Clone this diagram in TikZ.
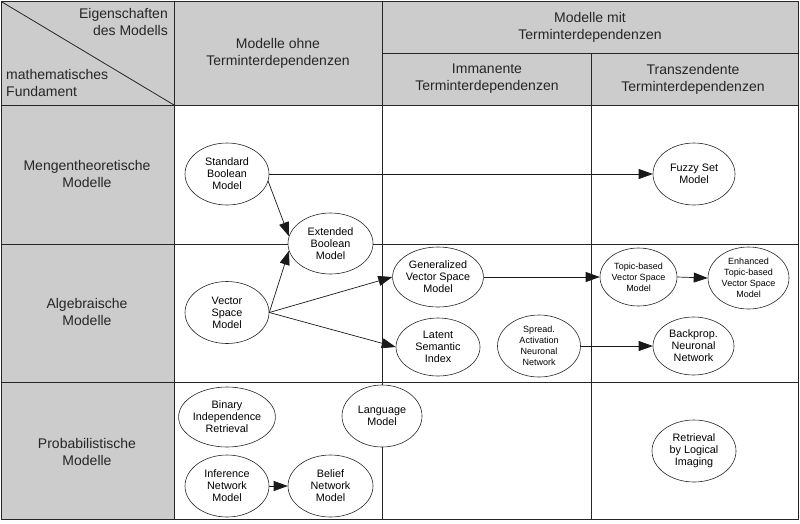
\documentclass[tikz,border=0pt]{standalone}
\usepackage{fontspec}
\setmainfont{Liberation Sans}
\usetikzlibrary{shapes.geometric,arrows.meta}
\begin{document}
\begin{tikzpicture}[x=1pt,y=-1pt,
  grid/.style={draw=black!85,line width=0.9pt},
  hdr/.style={font=\fontsize{14}{17}\selectfont,align=center,inner sep=0pt,text=black!85},
  mdl/.style={ellipse,draw=black!85,fill=white,line width=0.6pt,minimum width=#1,inner sep=0pt,align=center,font=\fontsize{10.8}{12}\selectfont},
  mdl/.default=84pt,
  small/.style={font=\fontsize{9}{11}\selectfont},
  arr/.style={draw=black!90,line width=0.7pt,-{Triangle[length=14pt,width=10pt]}}]
\useasboundingbox (0,0) rectangle (800,523);
% backgrounds
\fill[black!20] (1,1) rectangle (798,105);
\fill[black!20] (1,105) rectangle (174,519);
% grid lines
\draw[grid] (1,1) rectangle (798,519);
\draw[grid] (1,105) -- (798,105);
\draw[grid] (1,244) -- (798,244);
\draw[grid] (1,382) -- (798,382);
\draw[grid] (174,1) -- (174,519);
\draw[grid] (382,1) -- (382,519);
\draw[grid] (591,53) -- (591,519);
\draw[grid] (382,53) -- (798,53);
\draw[draw=black!85,line width=0.8pt] (2,2) -- (174,105);
% header texts
\node[hdr,align=right,anchor=east] (eig) at (168,22) {Eigenschaften\\des Modells};
\node[hdr,align=left,anchor=west] (mat) at (6,83) {mathematisches\\Fundament};
\node[hdr] (ohne) at (278,53) {Modelle ohne\\Terminterdependenzen};
\node[hdr] (mit) at (590,27) {Modelle mit\\Terminterdependenzen};
\node[hdr] (imm) at (487,79) {Immanente\\Terminterdependenzen};
\node[hdr] (tra) at (693,79) {Transzendente\\Terminterdependenzen};
\node[hdr] (r1) at (87,174) {Mengentheoretische\\Modelle};
\node[hdr] (r2) at (87,312) {Algebraische\\Modelle};
\node[hdr] (r3) at (87,452) {Probabilistische\\Modelle};
% models
\node[mdl,minimum height=62pt] (sbm) at (227,174) {Standard\\Boolean\\Model};
\node[mdl=85pt,minimum height=61pt] (ebm) at (330.5,243.5) {Extended\\Boolean\\Model};
\node[mdl,minimum height=62pt] (vsm) at (227,312.5) {Vector\\Space\\Model};
\node[mdl=82pt,minimum height=62pt] (fsm) at (694,174) {Fuzzy Set\\Model};
\node[mdl,minimum height=60pt] (gvs) at (438,277) {Generalized\\Vector Space\\Model};
\node[mdl=77pt,minimum height=58pt,small] (tvs) at (638.5,277) {Topic-based\\Vector Space\\Model};
\node[mdl=81pt,minimum height=62pt,small] (etv) at (748.5,278) {Enhanced\\Topic-based\\Vector Space\\Model};
\node[mdl,minimum height=58pt] (lsi) at (438,347) {Latent\\Semantic\\Index};
\node[mdl=83pt,minimum height=62pt,small] (san) at (539,346) {Spread.\\Activation\\Neuronal\\Network};
\node[mdl=81pt,minimum height=58pt] (bnn) at (693.5,346) {Backprop.\\Neuronal\\Network};
\node[mdl,minimum height=60pt] (bir) at (227,417) {Binary\\Independence\\Retrieval};
\node[mdl=80pt,minimum height=62pt] (lm) at (382,416) {Language\\Model};
\node[mdl,minimum height=62pt] (inm) at (227,486) {Inference\\Network\\Model};
\node[mdl=85pt,minimum height=62pt] (bnm) at (330.5,486) {Belief\\Network\\Model};
\node[mdl,minimum height=62pt] (rli) at (694,451) {Retrieval\\by Logical\\Imaging};
% connectors
\draw[arr] (sbm.east) -- (fsm.west);
\draw[arr] (sbm.-10) -- (ebm.170);
\draw[arr] (vsm.east) -- (ebm.190);
\draw[arr] (vsm.east) -- (gvs.west);
\draw[arr] (vsm.east) -- (lsi.west);
\draw[arr] (gvs.east) -- (tvs.west);
\draw[arr] (tvs.east) -- (etv.west);
\draw[arr] (san.east) -- (bnn.west);
\draw[arr] (inm.east) -- (bnm.west);
\end{tikzpicture}
\end{document}
